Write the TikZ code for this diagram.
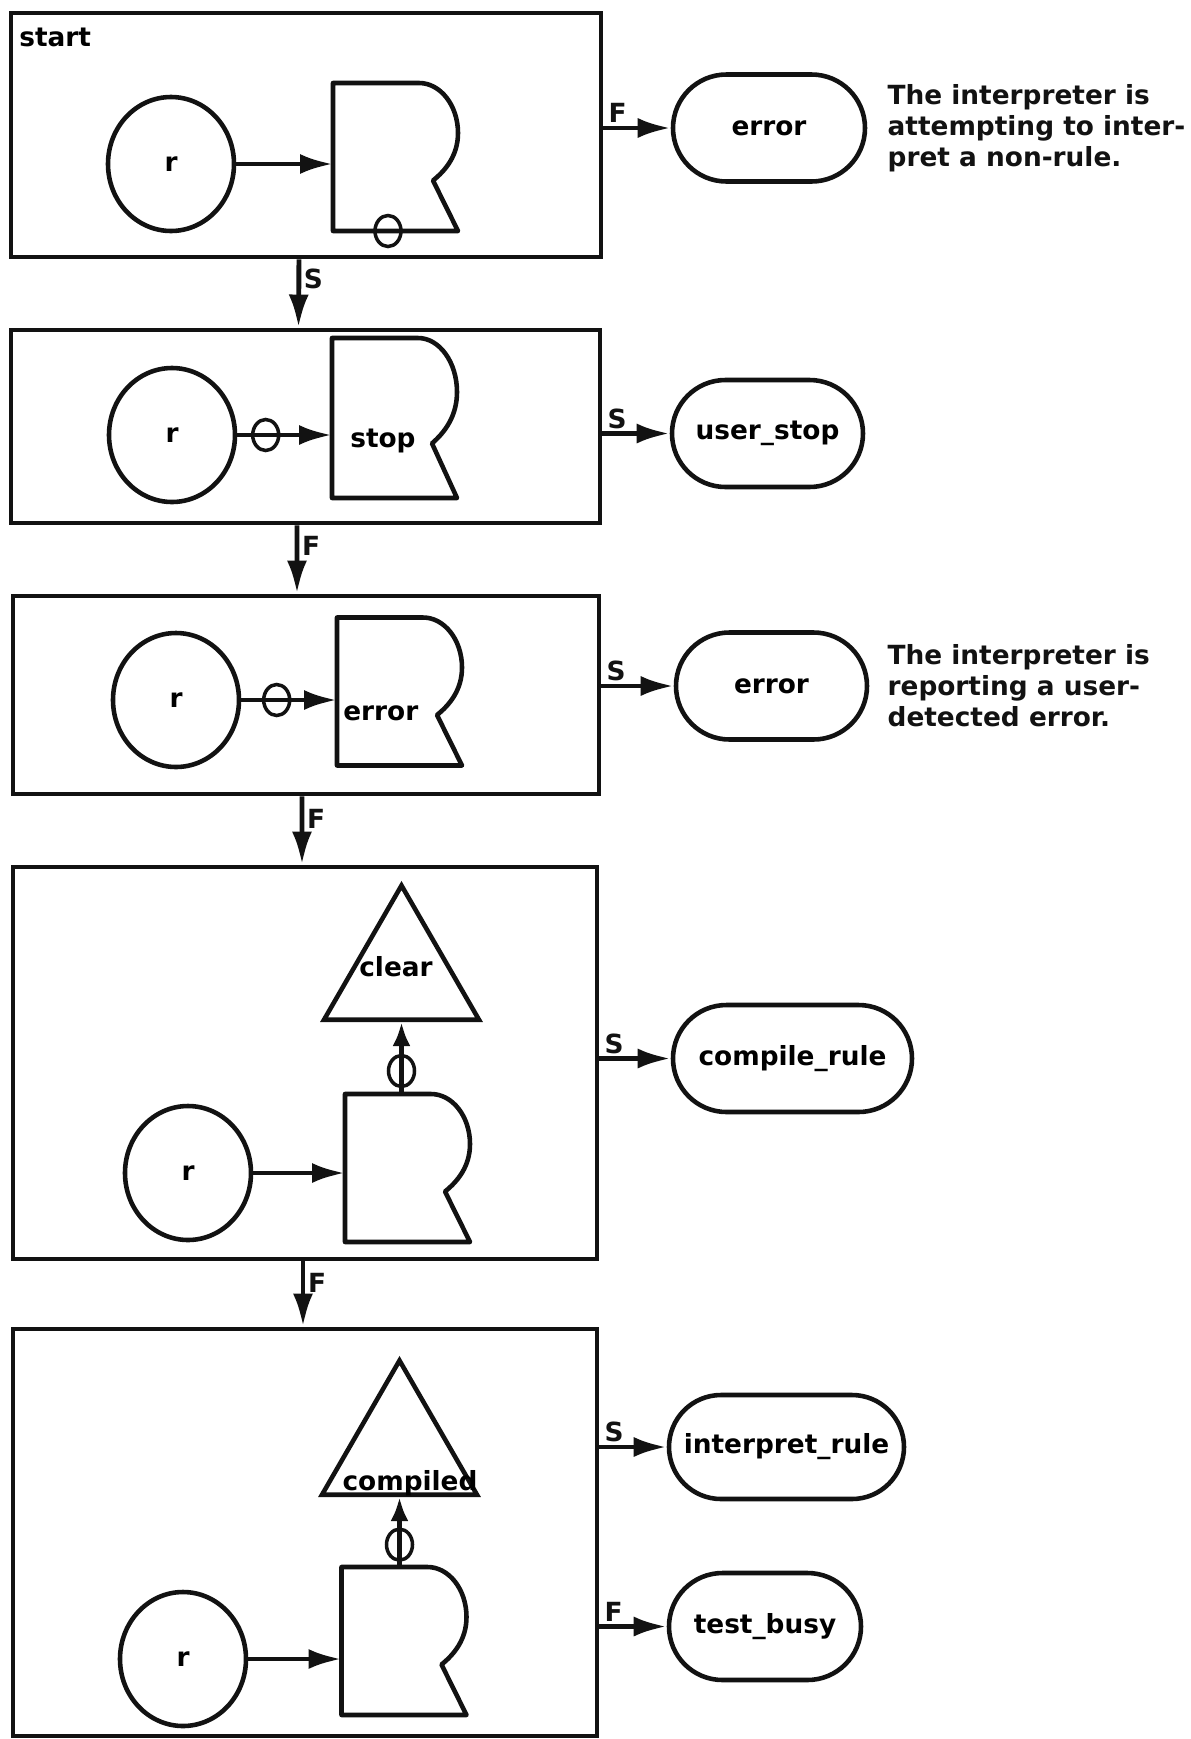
\documentclass[tikz,border=0pt]{standalone}
\usepackage{fontspec}
\setmainfont{DejaVu Sans}
\usepackage{tikz}
\usetikzlibrary{arrows.meta,positioning,calc,shapes.geometric,shapes.misc}
\usepackage{xcolor}
\definecolor{Ink}{HTML}{121212}

\tikzset{
  recline/.style={Ink,line width=2.6pt,line join=round},
  recshape/.pic={
    \draw[recline] (0,0) -- (1.72,0) .. controls (2.15,0) and (2.50,-0.45) .. (2.50,-1.00)
      .. controls (2.50,-1.45) and (2.25,-1.75) .. (2.00,-1.95) -- (2.50,-2.96) -- (0,-2.96) -- cycle;
  }
}

\begin{document}
\begin{tikzpicture}[x=1cm,y=1cm,>={Latex[length=0.66cm,width=0.40cm]},
  font=\bfseries\fontsize{15}{17.6}\selectfont,
  frame/.style={draw=Ink,line width=2.8pt,inner sep=0pt},
  rnode/.style={ellipse,draw=Ink,line width=2.6pt,minimum width=2.52cm,minimum height=2.68cm,inner sep=0pt},
  rec/.style={rectangle,minimum width=2.5cm,minimum height=2.96cm,inner sep=0pt,outer sep=0pt},
  ring/.style={ellipse,draw=Ink,line width=2.0pt,minimum width=0.52cm,minimum height=0.62cm,inner sep=0pt},
  tri/.style={regular polygon,regular polygon sides=3,draw=Ink,line width=2.6pt,minimum size=3.58cm,inner sep=0pt},
  pill/.style={rounded rectangle,draw=Ink,line width=2.6pt,minimum height=2.14cm,inner sep=0pt},
  flow/.style={->,Ink,line width=2.8pt},
  upflow/.style={-{Latex[length=0.48cm,width=0.36cm]},Ink,line width=2.8pt},
  lbl/.style={inner sep=1.5pt,text=Ink},
  note/.style={align=left,inner sep=0pt,text=Ink}]
\useasboundingbox (0,0) rectangle (23.80,-34.78);
% boxes
\node[frame,minimum width=11.80cm,minimum height=4.88cm] (b1) at (6.12,-2.70) {};
\node[frame,minimum width=11.78cm,minimum height=3.86cm] (b2) at (6.11,-8.53) {};
\node[frame,minimum width=11.72cm,minimum height=3.96cm] (b3) at (6.12,-13.90) {};
\node[frame,minimum width=11.68cm,minimum height=7.84cm] (b4) at (6.10,-21.26) {};
\node[frame,minimum width=11.68cm,minimum height=8.14cm] (b5) at (6.10,-30.65) {};
\node[anchor=base west,inner sep=0pt] (start) at (0.38,-0.92) {start};
% r circles
\node[rnode] (c1) at (3.42,-3.28) {r};
\node[rnode] (c2) at (3.44,-8.70) {r};
\node[rnode] (c3) at (3.52,-14.00) {r};
\node[rnode] (c4) at (3.76,-23.46) {r};
\node[rnode] (c5) at (3.66,-33.18) {r};
% record shapes
\node[rec] (r1) at (7.91,-3.14) {};
\node[rec,minimum height=3.20cm] (r2) at (7.89,-8.36) {};
\node[rec] (r3) at (7.99,-13.83) {};
\node[rec] (r4) at (8.15,-23.36) {};
\node[rec] (r5) at (8.08,-32.82) {};
\pic at (r1.north west) {recshape};
\pic[yscale=1.081] at (r2.north west) {recshape};
\pic at (r3.north west) {recshape};
\pic at (r4.north west) {recshape};
\pic at (r5.north west) {recshape};
\node[anchor=west,inner sep=0pt] (stoptxt) at ($(c2 -| r2.west)+(0.36,-0.12)$) {stop};
\node[anchor=west,inner sep=0pt] (errtxt) at ($(c3 -| r3.west)+(0.12,-0.26)$) {error};
\node[ring] (ring1) at ([xshift=1.10cm]r1.south west) {};
% triangles
\node[tri] (t1) at (8.03,-19.50) {};
\node[tri] (t2) at (7.99,-29.00) {};
\node[inner sep=0pt] (cleartxt) at (7.92,-19.34) {clear};
\node[anchor=base,inner sep=0pt] (comptxt) at (8.20,-29.80) {compiled};
% exits
\node[pill,minimum width=3.84cm] (p1) at (15.38,-2.56) {error};
\node[pill,minimum width=3.82cm] (p2) at (15.35,-8.67) {user\_stop};
\node[pill,minimum width=3.82cm] (p3) at (15.43,-13.72) {error};
\node[pill,minimum width=4.78cm] (p4) at (15.85,-21.17) {compile\_rule};
\node[pill,minimum width=4.70cm,minimum height=2.08cm] (p5) at (15.73,-28.94) {interpret\_rule};
\node[pill,minimum width=3.84cm] (p6) at (15.30,-32.53) {test\_busy};
\node[note,right=0.40cm of p1] (n1) {The interpreter is\\attempting to inter-\\pret a non-rule.};
\node[note,right=0.36cm of p3] (n3) {The interpreter is\\reporting a user-\\detected error.};
% connectors
\draw[flow] (c1) -- (c1 -| r1.west);
\draw[flow] (c2) -- node[ring,pos=0.30] (ring2) {} (c2 -| r2.west);
\draw[flow] (c3) -- node[ring,pos=0.37] (ring3) {} (c3 -| r3.west);
\draw[flow] (c4) -- (c4 -| r4.west);
\draw[flow] (c5) -- (c5 -| r5.west);
\draw[upflow] (r4.north -| t1.south) -- node[ring,pos=0.32] (ring4) {} (t1.south);
\draw[upflow] (r5.north -| t2.south) -- node[ring,pos=0.32] (ring5) {} (t2.south);
\draw[flow] ([xshift=-0.14cm]b1.south) -- node[lbl,right,pos=0.28] (ls1) {S} ([xshift=-0.14cm]b2.north);
\draw[flow] ([xshift=-0.17cm]b2.south) -- node[lbl,right,pos=0.3] (ls2) {F} ([xshift=-0.18cm]b3.north);
\draw[flow] ([xshift=-0.08cm]b3.south) -- node[lbl,right,pos=0.33] (ls3) {F} ([xshift=-0.06cm]b4.north);
\draw[flow] ([xshift=-0.04cm]b4.south) -- node[lbl,right,pos=0.33] (ls4) {F} ([xshift=-0.04cm]b5.north);
\draw[flow] (p1.west -| b1.east) node[lbl,above right] (lo1) {F} -- (p1.west);
\draw[flow] (p2.west -| b2.east) node[lbl,above right] (lo2) {S} -- (p2.west);
\draw[flow] (p3.west -| b3.east) node[lbl,above right] (lo3) {S} -- (p3.west);
\draw[flow] (p4.west -| b4.east) node[lbl,above right] (lo4) {S} -- (p4.west);
\draw[flow] (p5.west -| b5.east) node[lbl,above right] (lo5) {S} -- (p5.west);
\draw[flow] (p6.west -| b5.east) node[lbl,above right] (lo6) {F} -- (p6.west);
\end{tikzpicture}
\end{document}
